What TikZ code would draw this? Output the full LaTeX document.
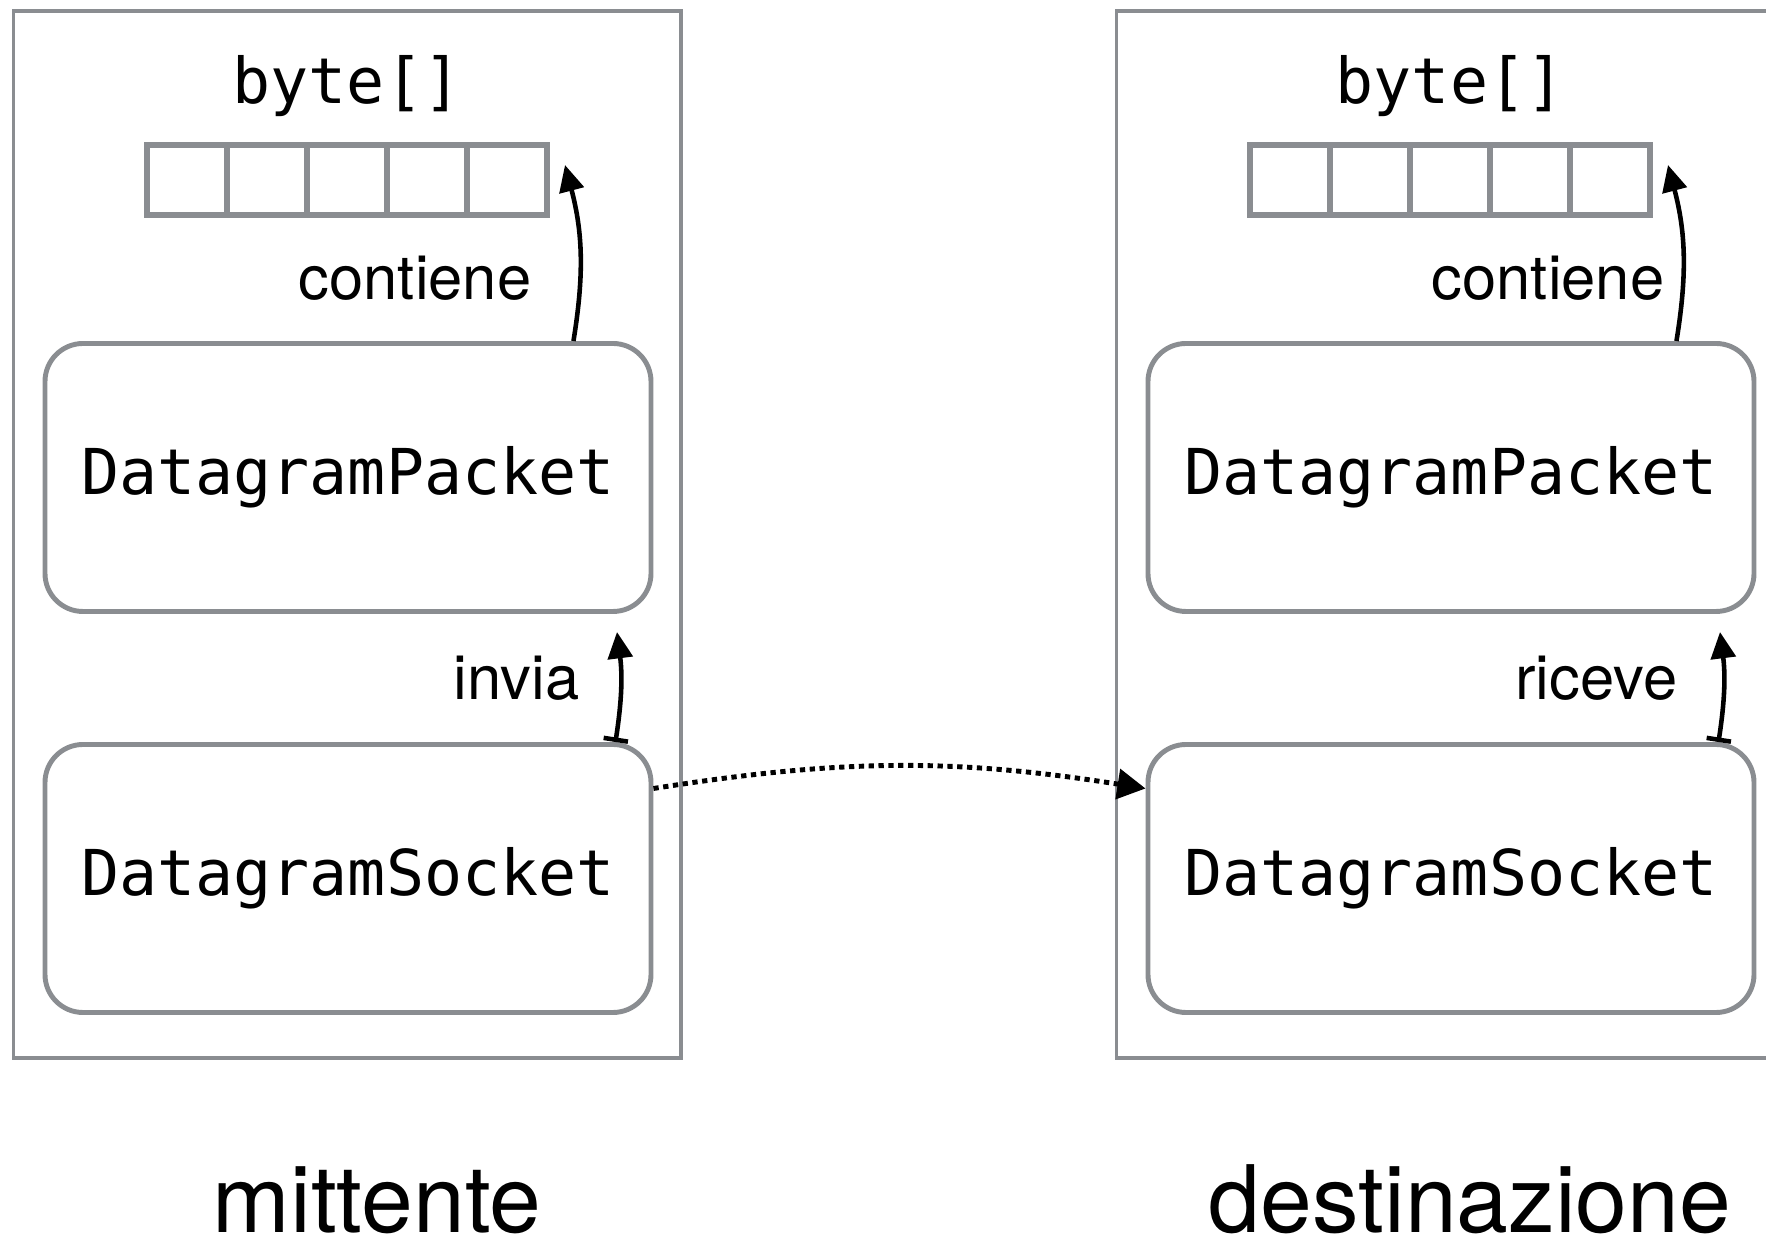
\documentclass[tikz,border=0pt]{standalone}
\usepackage{fontspec}
\setmonofont{DejaVu Sans Mono}
\newfontfamily\heros{TeX Gyre Heros}
\usetikzlibrary{positioning, arrows.meta}
\definecolor{boxgray}{RGB}{138,141,145}

\begin{document}
\begin{tikzpicture}[
  host/.style={draw=boxgray, line width=1pt, minimum width=6.675cm, minimum height=10.47cm},
  obj/.style={draw=boxgray, line width=1.4pt, rounded corners=0.38cm, minimum width=6.06cm, minimum height=2.68cm, font=\ttfamily\fontsize{18}{22}\selectfont},
  cell/.style={draw=boxgray, line width=1.6pt, minimum width=0.8cm, minimum height=0.7cm, inner sep=0pt, outer sep=0pt},
  arr/.style={font=\ttfamily\fontsize{18}{22}\selectfont, anchor=base},
  lbl/.style={font=\heros\fontsize{17.5}{20}\selectfont, inner sep=0pt, anchor=base east},
  side/.style={font=\heros\fontsize{26.5}{30}\selectfont, inner sep=0pt, anchor=base},
  link/.style={line width=1.3pt, -{Triangle[width=7pt, length=7.5pt]}},
  sendlink/.style={link, {Bar[width=7pt]}-{Triangle[width=7pt, length=7.5pt]}}
]
\useasboundingbox (0, 0) rectangle (17.66, 12.53);
\clip (0, 0) rectangle (17.66, 12.53);

% mittente
\def\x{0}
\node[host] (lhost) at (\x + 3.4725, 7.185) {};
\node[arr] (lbyte) at (\x + 3.47, 11.49) {byte[]};
\node[cell] (l1) at (\x + 1.87, 10.73) {};
\node[cell, right=0cm of l1] (l2) {};
\node[cell, right=0cm of l2] (l3) {};
\node[cell, right=0cm of l3] (l4) {};
\node[cell, right=0cm of l4] (l5) {};
\node[obj] (lpacket) at (\x + 3.48, 7.755) {DatagramPacket};
\node[obj] (lsocket) at (\x + 3.48, 3.745) {DatagramSocket};
\node[lbl] (lcont) at (\x + 5.32, 9.53) {contiene};
\node[lbl] (linvia) at (\x + 5.80, 5.53) {invia};
\coordinate (ltip) at (\x + 5.65, 10.88);
\coordinate (lsend) at (\x + 6.17, 6.21);
\node[side] (lname) at (\x + 3.77, 0.2) {mittente};

\draw[link] ([xshift=-0.8cm]lpacket.north east) to[bend right=12] (ltip);
\draw[sendlink] ([xshift=-0.38cm]lsocket.north east) to[bend right=8] (lsend);

% destinazione
\def\x{11.03}
\node[host] (rhost) at (\x + 3.4725, 7.185) {};
\node[arr] (rbyte) at (\x + 3.47, 11.49) {byte[]};
\node[cell] (r1) at (\x + 1.87, 10.73) {};
\node[cell, right=0cm of r1] (r2) {};
\node[cell, right=0cm of r2] (r3) {};
\node[cell, right=0cm of r3] (r4) {};
\node[cell, right=0cm of r4] (r5) {};
\node[obj] (rpacket) at (\x + 3.48, 7.755) {DatagramPacket};
\node[obj] (rsocket) at (\x + 3.48, 3.745) {DatagramSocket};
\node[lbl] (rcont) at (\x + 5.62, 9.53) {contiene};
\node[lbl] (rriceve) at (\x + 5.75, 5.53) {riceve};
\coordinate (rtip) at (\x + 5.65, 10.88);
\coordinate (rrecv) at (\x + 6.17, 6.21);
\node[side] (rname) at (\x + 3.67, 0.2) {destinazione};

\draw[link] ([xshift=-0.8cm]rpacket.north east) to[bend right=12] (rtip);
\draw[sendlink] ([xshift=-0.38cm]rsocket.north east) to[bend right=8] (rrecv);

% trasmissione
\draw[line width=1.4pt, dash pattern=on 1.5pt off 1.3pt, -{Triangle[width=8.5pt, length=8pt]}] ([yshift=0.9cm]lsocket.east) to[bend left=9] ([yshift=0.9cm]rsocket.west);

\end{tikzpicture}
\end{document}
